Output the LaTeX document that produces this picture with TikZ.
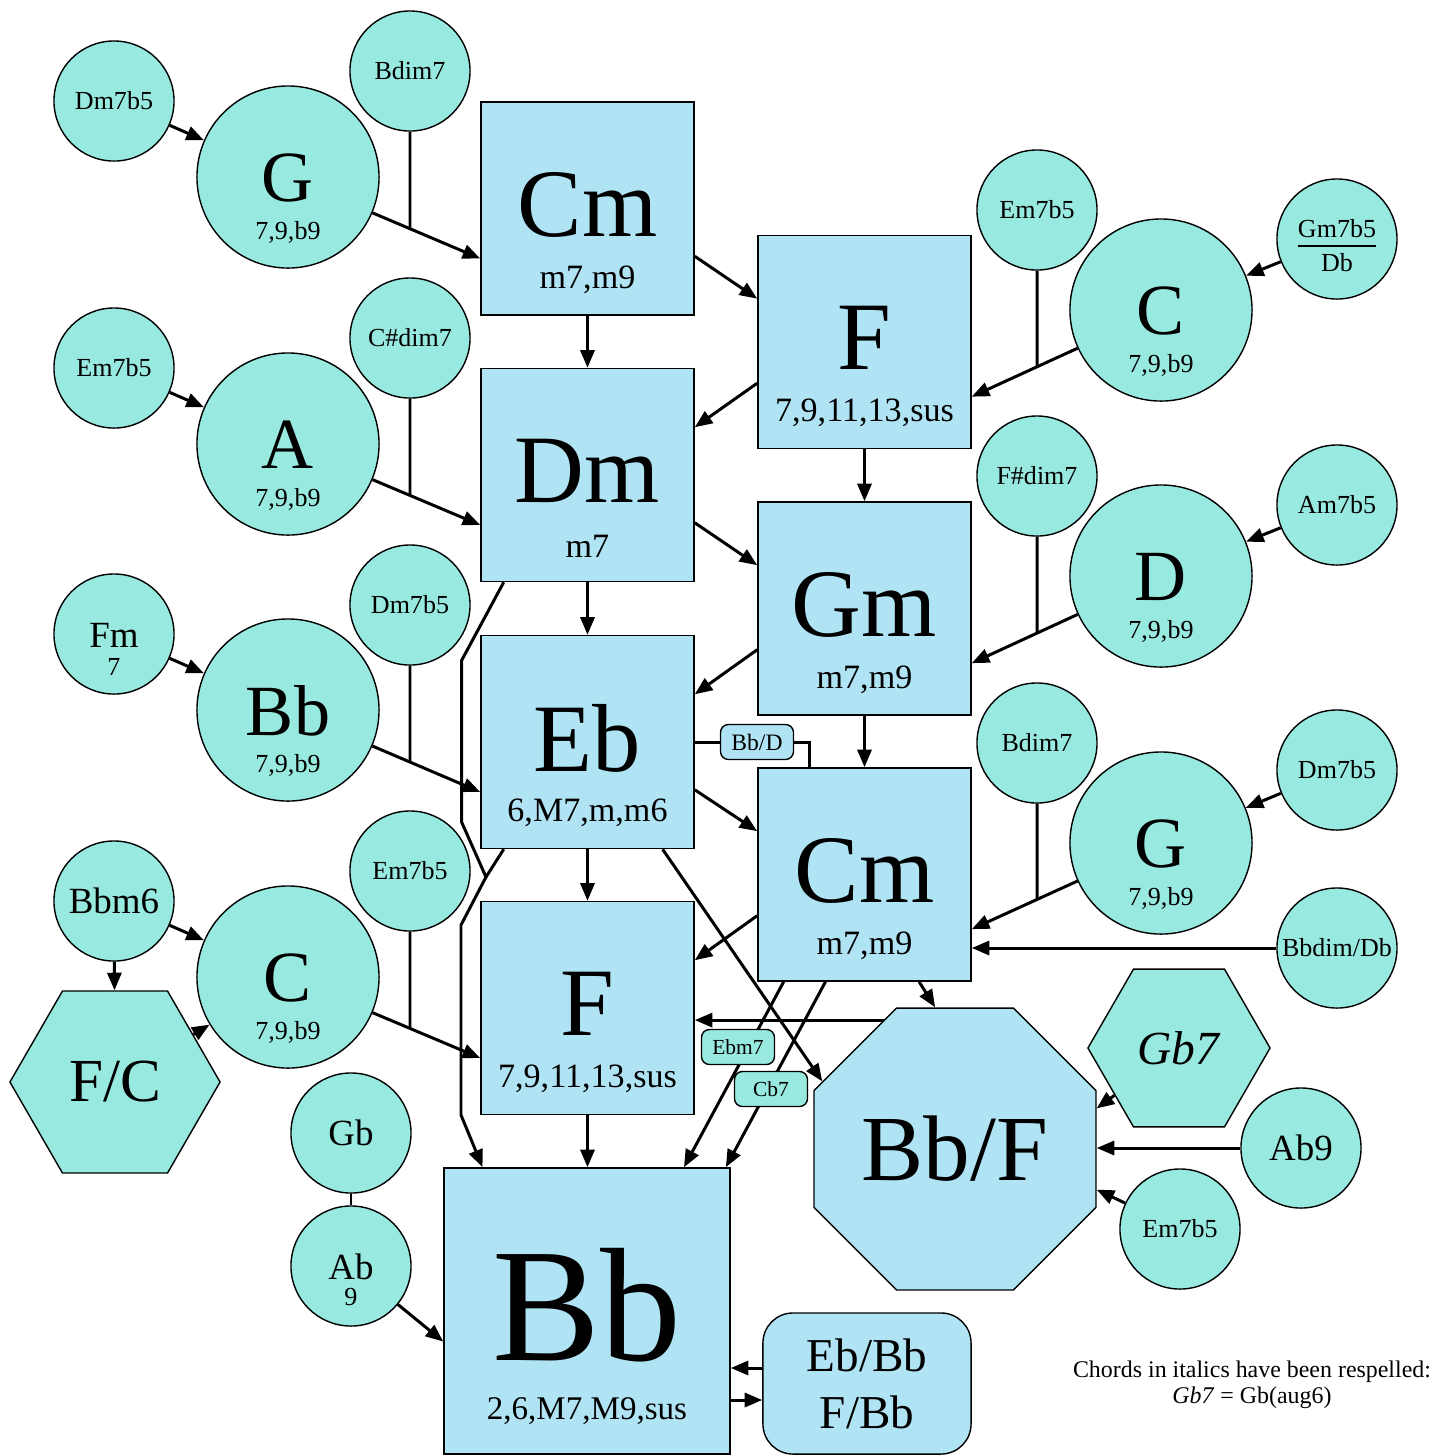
\documentclass[tikz,border=0pt]{standalone}
\usepackage{fontspec}
\setmainfont{Liberation Serif}
\usetikzlibrary{shapes.geometric,arrows.meta,calc}
\definecolor{keyblue}{RGB}{176,228,245}
\definecolor{ringteal}{RGB}{152,234,224}
\newcommand{\fsz}[1]{\fontsize{#1}{#1}\selectfont}

\begin{document}
\begin{tikzpicture}[x=0.01cm,y=-0.01cm,
	keybox/.style={draw,fill=keyblue,line width=0.4pt,minimum width=2.13cm,minimum height=2.13cm,inner sep=0pt},
	ring/.style={circle,draw,fill=ringteal,line width=0.4pt,minimum size=1.82cm,inner sep=0pt},
	smallring/.style={circle,draw,fill=ringteal,line width=0.4pt,minimum size=1.2cm,inner sep=0pt,font=\fsz{7.4}},
	hexa/.style={regular polygon,regular polygon sides=6,draw,fill=ringteal,line width=0.4pt,inner sep=0pt},
	tagbox/.style={draw,rounded corners=0.08cm,line width=0.4pt,minimum width=0.73cm,minimum height=0.35cm,inner sep=0pt},
	boxname/.style={label={[yshift=0.04cm,font=\fsz{27.5}]center:#1}},
	boxsub/.style={label={[yshift=-0.71cm,font=\fsz{9.7}]center:#1}},
	ringname/.style={label={[yshift=-0.01cm,font=\fsz{20.5}]center:#1}},
	ringsub/.style={label={[yshift=-0.55cm,font=\fsz{7.4}]center:#1}},
	arr/.style={-{Triangle[length=5pt,width=4pt]},line width=0.85pt},
	link/.style={line width=0.85pt}]
	\useasboundingbox (0,0) rectangle (1434,1456);

	% main column of keys
	\node[keybox,boxname=Cm,boxsub={m7,m9}] (cmA) at (587.5,208.5) {};
	\node[keybox,boxname=Dm,boxsub={m7}] (dm) at (587.5,475) {};
	\node[keybox,boxname=Eb,boxsub={6,M7,m,m6}] (eb) at (587.5,742) {};
	\node[keybox,boxname=F,boxsub={7,9,11,13,sus}] (fL) at (587.5,1008) {};
	\node[keybox,minimum width=2.86cm,minimum height=2.86cm,
		label={[yshift=0.06cm,font=\fsz{46}]center:Bb},
		label={[yshift=-1.00cm,font=\fsz{9.4}]center:{2,6,M7,M9,sus}}] (bb) at (587,1311) {};
	\node[keybox,boxname=F,boxsub={7,9,11,13,sus}] (fU) at (864.5,342) {};
	\node[keybox,boxname=Gm,boxsub={m7,m9}] (gm) at (864.5,608.5) {};
	\node[keybox,boxname=Cm,boxsub={m7,m9}] (cmB) at (864.5,874.5) {};

	% dominants on the left
	\node[ring,ringname=G,ringsub={7,9,b9}] (gL) at (288,177) {};
	\node[ring,ringname=A,ringsub={7,9,b9}] (aL) at (288,444) {};
	\node[ring,ringname=Bb,ringsub={7,9,b9}] (bbL) at (288,710) {};
	\node[ring,ringname=C,ringsub={7,9,b9}] (cL) at (288,977) {};
	\node[smallring] (dmfA) at (114,101) {Dm7b5};
	\node[smallring] (bdimA) at (410,71) {Bdim7};
	\node[smallring] (emfA) at (114,368) {Em7b5};
	\node[smallring] (csdim) at (410,338) {C\#dim7};
	\node[smallring,label={[yshift=-0.01cm,font=\fsz{10.5}]center:Fm},
		label={[yshift=-0.33cm,font=\fsz{7.4}]center:7}] (fm) at (114,634) {};
	\node[smallring] (dmfB) at (410,605) {Dm7b5};
	\node[smallring,font=\fsz{10.5}] (bbm) at (114,901) {Bbm6};
	\node[smallring] (emfB) at (410,871) {Em7b5};
	\node[hexa,minimum size=2.1cm,font=\fsz{17.4}] (fc) at (115,1082) {F/C};
	\node[smallring,font=\fsz{10.5}] (gb) at (351,1133) {Gb};
	\node[smallring,label={[yshift=-0.01cm,font=\fsz{10.5}]center:Ab},
		label={[yshift=-0.31cm,font=\fsz{7.4}]center:9}] (ab) at (351,1266) {};

	% dominants on the right
	\node[ring,ringname=C,ringsub={7,9,b9}] (cR) at (1161,310) {};
	\node[ring,ringname=D,ringsub={7,9,b9}] (dR) at (1161,576) {};
	\node[ring,ringname=G,ringsub={7,9,b9}] (gR) at (1161,843) {};
	\node[smallring] (emfC) at (1037,210) {Em7b5};
	\node[smallring,label={[yshift=-0.10cm,font=\fsz{7.4}]center:{\begin{tabular}{@{}c@{}}Gm7b5\\\hline\rule{0pt}{7pt}Db\end{tabular}}}] (gmfdb) at (1337,239) {};
	\node[smallring] (fsdim) at (1037,476) {F\#dim7};
	\node[smallring] (amf) at (1337,505) {Am7b5};
	\node[smallring] (bdimB) at (1037,743) {Bdim7};
	\node[smallring] (dmfC) at (1337,770) {Dm7b5};
	\node[smallring] (bbdim) at (1337,948) {Bbdim/Db};
	\node[regular polygon,regular polygon sides=8,draw,fill=keyblue,line width=0.4pt,
		minimum size=3.05cm,inner sep=0pt,font=\fsz{26.5}] (bbf) at (955,1149) {Bb/F};
	\node[hexa,minimum size=1.82cm,font=\fsz{13.5}] (gbs) at (1179,1048) {\textit{Gb7}};
	\node[smallring,font=\fsz{10.5}] (abn) at (1301,1148) {Ab9};
	\node[smallring] (emfD) at (1180,1229) {Em7b5};
	\node[draw,fill=keyblue,rounded corners=0.3cm,line width=0.4pt,minimum width=2.08cm,
		minimum height=1.41cm,align=center,font=\fontsize{13.4}{16.2}\selectfont] (ebbb) at (867,1383.5) {Eb/Bb\\F/Bb};
	\node[align=center,font=\fontsize{6.8}{7.5}\selectfont] (note) at (1252,1385)
		{Chords in italics have been respelled:\\\textit{Gb7} = Gb(aug6)};

	% left feeders
	\draw[arr] (dmfA) -- (gL);
	\draw[arr] (emfA) -- (aL);
	\draw[arr] (fm) -- (bbL);
	\draw[arr] (bbm) -- (cL);
	\draw[arr] (bbm) -- (fc);
	\draw[arr] (fc) -- (cL);
	\draw[arr] (gL) -- (cmA.205);
	\draw[arr] (aL) -- (dm.205);
	\draw[arr] (bbL) -- (eb.205);
	\draw[arr] (cL) -- (fL.205);
	\draw[link] (bdimA) -- (intersection of gL--cmA.205 and bdimA--bdimA.south);
	\draw[link] (csdim) -- (intersection of aL--dm.205 and csdim--csdim.south);
	\draw[link] (dmfB) -- (intersection of bbL--eb.205 and dmfB--dmfB.south);
	\draw[link] (emfB) -- (intersection of cL--fL.205 and emfB--emfB.south);
	\draw[link] (gb) -- (ab);
	\draw[arr] (ab) -- (bb.192);

	% right feeders
	\draw[arr] (gmfdb) -- (cR);
	\draw[arr] (amf) -- (dR);
	\draw[arr] (dmfC) -- (gR);
	\draw[arr] (cR) -- (fU.333);
	\draw[arr] (dR) -- (gm.333);
	\draw[arr] (gR) -- (cmB.333);
	\draw[link] (emfC) -- (intersection of cR--fU.333 and emfC--emfC.south);
	\draw[link] (fsdim) -- (intersection of dR--gm.333 and fsdim--fsdim.south);
	\draw[link] (bdimB) -- (intersection of gR--cmB.333 and bdimB--bdimB.south);
	\draw[arr] (bbdim) -- (bbdim -| cmB.east);
	\draw[arr] (gbs) -- (bbf.16);
	\draw[arr] (abn) -- (abn -| bbf.east);
	\draw[arr] (emfD) -- (bbf.344);

	% between the keys
	\draw[arr] (cmA) -- (dm);
	\draw[arr] (dm) -- (eb);
	\draw[arr] (eb) -- (fL);
	\draw[arr] (fL) -- (fL |- bb.north);
	\draw[arr] (fU) -- (gm);
	\draw[arr] (gm) -- (cmB);
	\draw[arr] (cmA.336) -- (fU.158);
	\draw[arr] (dm.336) -- (gm.158);
	\draw[arr] (eb.336) -- (cmB.158);
	\draw[arr] (fU.201) -- (dm.24);
	\draw[arr] (gm.201) -- (eb.24);
	\draw[arr] (cmB.201) -- (fL.24);
	\node[tagbox,fill=keyblue,font=\fsz{6.7}] (bbd) at (757,742) {Bb/D};
	\draw[link] (eb.east) -- (bbd) -| (cmB.117);
	\coordinate (merge) at (486,877);
	\draw[arr] (dm.232) -- ++(-42,78) -- ++(0,162) -- (merge) -- ++(-25,48) -- ++(0,190) -- (bb.126);
	\draw[link] (eb.232) -- (merge);
	\draw[arr] (cmB.233) -- (bb.56);
	\draw[arr] (cmB.250) -- (bb.46);
	\node[tagbox,fill=ringteal,font=\fsz{6.1}] (ebm) at (738,1047) {Ebm7};
	\node[tagbox,fill=ringteal,font=\fsz{6.1}] (cb) at (771,1089) {Cb7};
	\draw[arr] (eb.305) -- (bbf.153);
	\draw[arr] (cmB.297) -- (bbf.98);
	\draw[arr] (bbf.119) -- (bbf.119 -| fL.east);
	\coordinate (ebIn) at ([yshift=0.155cm]ebbb.west);
	\coordinate (ebOut) at ([yshift=-0.165cm]ebbb.west);
	\draw[arr] (ebIn) -- (ebIn -| bb.east);
	\draw[arr] (ebOut -| bb.east) -- (ebOut);
\end{tikzpicture}
\end{document}
